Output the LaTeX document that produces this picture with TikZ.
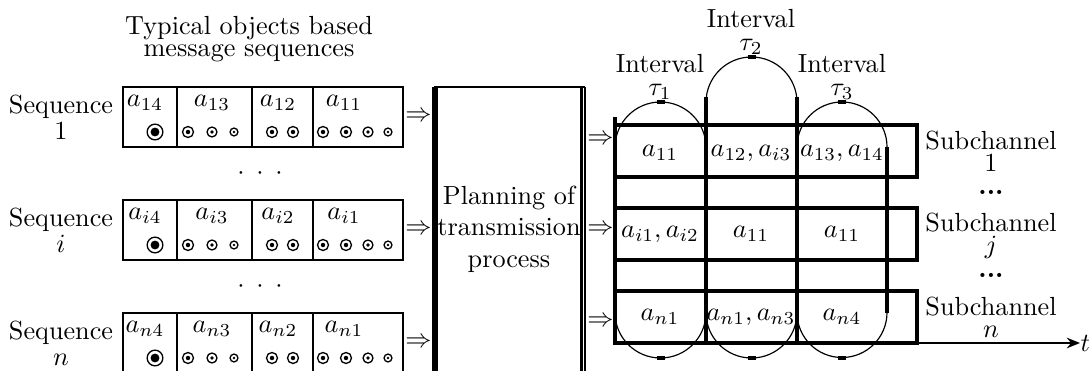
\documentclass[tikz,border=0pt]{standalone}
\usepackage{amsmath,amssymb}
\usetikzlibrary{positioning,arrows.meta}

\tikzset{
  frame/.style={line width=1pt},
  grid/.style={line width=1.25pt},
  slot/.style={line width=0.45pt},
  apex/.style={line width=1.6pt},
  lbl/.style={align=center,inner sep=0pt},
  imp/.style={inner sep=0pt},
  odot/.style 2 args={circle,draw,line width=0.5pt,inner sep=0pt,minimum size=#1,
    path picture={\fill (path picture bounding box.center) circle (#2);}},
  bigdot/.style={odot={6pt}{1.7pt}},
  meddot/.style={odot={4.2pt}{0.85pt}},
  lowdot/.style={odot={3.8pt}{0.75pt}},
  tinydot/.style={odot={3pt}{0.5pt}}
}

\begin{document}
\begin{tikzpicture}[x=0.3817pt,y=-0.3817pt]
  \useasboundingbox (0,0) rectangle (1089,371);

  % message sequences
  \node[lbl] (title) at (249,39) {Typical objects based\\[-3.5pt]message sequences};
  \foreach \t/\k in {87/1,200/i,313/n}{
    \draw[frame] (123,\t) rectangle (403,\t+60);
    \foreach \x in {177,252,313} \draw[frame] (\x,\t) -- (\x,\t+60);
    \node[lbl] (seq\k) at (61,\t+30) {Sequence\\[-2pt]$\k$};
    \node (a\k4) at (145,\t+16) {$a_{\k4}$};
    \node (a\k3) at (212,\t+16) {$a_{\k3}$};
    \node (a\k2) at (278,\t+16) {$a_{\k2}$};
    \node (a\k1) at (344,\t+16) {$a_{\k1}$};
    \foreach \x/\s [count=\m] in {155/bigdot,188/meddot,212/lowdot,234/tinydot,
        272/meddot,293/meddot,323/meddot,346/meddot,368/lowdot,388/tinydot}
      \node[\s] (c\k\m) at (\x,\t+45) {};
    \node[imp,anchor=east] (in\k) at (432,\t+30) {$\Rightarrow$};
  }
  \node (gap1) at (260,174) {$\cdot$\hspace{4.5pt}$\cdot$\hspace{4.5pt}$\cdot$};
  \node (gap2) at (260,287) {$\cdot$\hspace{4.5pt}$\cdot$\hspace{4.5pt}$\cdot$};

  % planning block
  \draw[line width=2pt] (435,380) -- (435,87);
  \draw[frame] (434,87) -- (585,87);
  \draw[frame] (581.5,87) -- (581.5,380);
  \draw[slot] (585,87) -- (585,380);
  \node[lbl] (plan) at (509,229) {Planning of\\transmission\\process};

  % subchannels and intervals
  \foreach \y/\k in {140/1,230/j,322/n}
    \node[imp,anchor=east] (out\k) at (614,\y) {$\Rightarrow$};
  \foreach \t in {125,208,291}
    \draw[grid] (615,\t) rectangle (917,\t+52);
  \coordinate (o) at (615,343);
  \node[imp,anchor=west] (t) at (1080,343) {$t$};
  \draw[grid] (615,117) -- (o);
  \draw[frame,-{Stealth[length=5pt,width=4pt]}] (o) -- (t.west);
  \draw[grid] (706,97) -- (706,343);
  \draw[grid] (797,97) -- (797,343);
  \draw[grid] (887,147) -- (887,313);

  \foreach \cx/\r/\top/\rr in {660.5/45.5/147.5/17.37pt, 751.5/45.5/102.5/17.37pt, 842/45/147/17.18pt}{
    \draw[slot] (\cx-\r,312.5) -- (\cx-\r,\top) arc[start angle=180,end angle=0,radius=\rr]
      -- (\cx+\r,312.5) arc[start angle=0,end angle=-180,radius=\rr];
    \draw[apex] (\cx-4,\top-\r) -- (\cx+4,\top-\r);
    \draw[apex] (\cx-4,358) -- (\cx+4,358);
  }
  \node[lbl] (int1) at (660,77) {Interval\\[-3pt]$\tau_1$};
  \node[lbl] (int2) at (751,32) {Interval\\[-3pt]$\tau_2$};
  \node[lbl] (int3) at (842,77) {Interval\\[-3pt]$\tau_3$};

  \node (s11) at (660,153) {$a_{11}$};
  \node (s12) at (751,153) {$a_{12},a_{i3}$};
  \node (s13) at (842,153) {$a_{13},a_{14}$};
  \node (sj1) at (660,234) {$a_{i1},a_{i2}$};
  \node (sj2) at (751,234) {$a_{11}$};
  \node (sj3) at (842,234) {$a_{11}$};
  \node (sn1) at (660,317) {$a_{n1}$};
  \node (sn2) at (751,317) {$a_{n1},a_{n3}$};
  \node (sn3) at (842,317) {$a_{n4}$};

  \node[lbl] (sub1) at (991,151) {Subchannel\\[-3.5pt]$1$};
  \node[lbl] (subj) at (991,236) {Subchannel\\[-3.5pt]$j$};
  \node[lbl] (subn) at (991,317) {Subchannel\\[-3.5pt]$n$};
  \node (more1) at (991,192) {\textbf{...}};
  \node (more2) at (991,275) {\textbf{...}};
\end{tikzpicture}
\end{document}
